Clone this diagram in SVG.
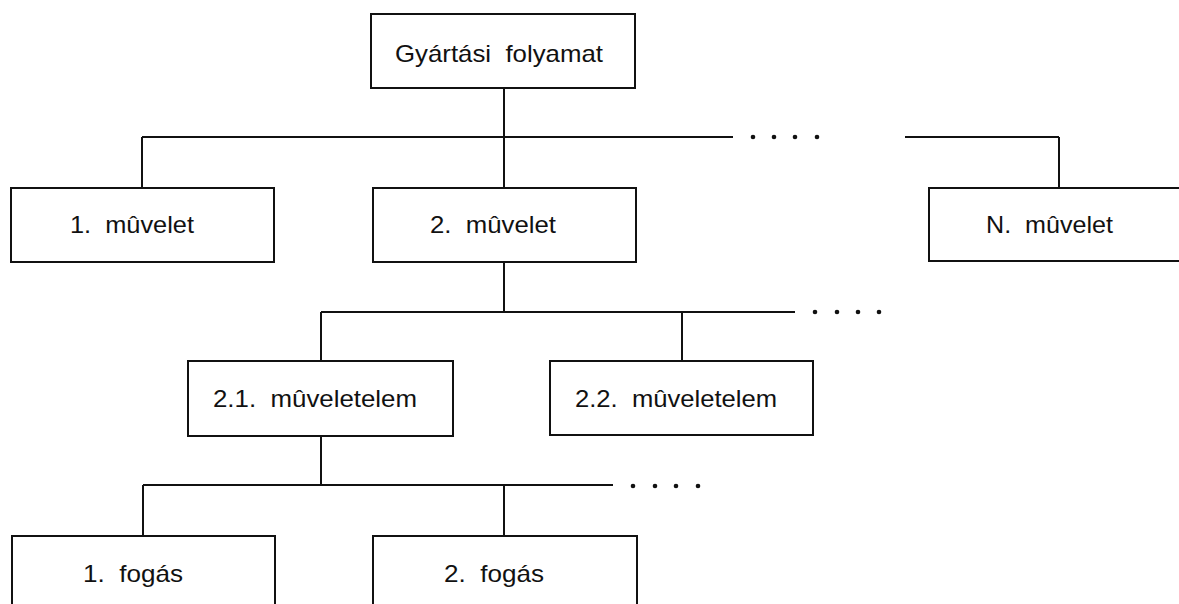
<svg xmlns="http://www.w3.org/2000/svg" width="1179" height="604" viewBox="0 0 1179 604">
  <style>
    .box { fill: #ffffff; stroke: #111111; stroke-width: 2; }
    .lbl { font-family: "Liberation Sans", Arial, sans-serif; font-size: 24px; fill: #111111; white-space: pre; }
    .wire { fill: none; stroke: #111111; stroke-width: 2; }
    .dot { fill: #111111; }
  </style>
  <rect width="1179" height="604" fill="#ffffff"/>

  <g id="connectors">
    <!-- process -> operations -->
    <path class="wire" d="M504 88 V137 M142 137 H733 M905 137 H1059 M142 137 V188 M504 137 V188 M1059 137 V188"/>
    <circle class="dot" cx="753" cy="137" r="2.3"/>
    <circle class="dot" cx="774" cy="137" r="2.3"/>
    <circle class="dot" cx="795" cy="137" r="2.3"/>
    <circle class="dot" cx="817" cy="137" r="2.3"/>
    <!-- operation 2 -> elements -->
    <path class="wire" d="M504 262 V312 M321 312 H795 M321 312 V361 M682 312 V361"/>
    <circle class="dot" cx="815" cy="312" r="2.3"/>
    <circle class="dot" cx="837" cy="312" r="2.3"/>
    <circle class="dot" cx="858" cy="312" r="2.3"/>
    <circle class="dot" cx="879" cy="312" r="2.3"/>
    <!-- element 2.1 -> moves -->
    <path class="wire" d="M321 436 V485 M143 485 H613 M143 485 V536 M504 485 V536"/>
    <circle class="dot" cx="633" cy="486" r="2.3"/>
    <circle class="dot" cx="655" cy="486" r="2.3"/>
    <circle class="dot" cx="676" cy="486" r="2.3"/>
    <circle class="dot" cx="698" cy="486" r="2.3"/>
  </g>

  <g id="process">
    <rect class="box" x="371" y="14" width="264" height="74"/>
    <text class="lbl" x="395" y="62" textLength="208" lengthAdjust="spacingAndGlyphs">Gyártási  folyamat</text>
  </g>

  <g id="op1">
    <rect class="box" x="11" y="188" width="263" height="74"/>
    <text class="lbl" x="70" y="233" textLength="124" lengthAdjust="spacingAndGlyphs">1.  mûvelet</text>
  </g>

  <g id="op2">
    <rect class="box" x="373" y="188" width="263" height="74"/>
    <text class="lbl" x="430" y="233" textLength="126" lengthAdjust="spacingAndGlyphs">2.  mûvelet</text>
  </g>

  <g id="opN">
    <rect class="box" x="929" y="188" width="263" height="73"/>
    <text class="lbl" x="986" y="233" textLength="127" lengthAdjust="spacingAndGlyphs">N.  mûvelet</text>
  </g>

  <g id="elem21">
    <rect class="box" x="188" y="361" width="265" height="75"/>
    <text class="lbl" x="213" y="407" textLength="204" lengthAdjust="spacingAndGlyphs">2.1.  mûveletelem</text>
  </g>

  <g id="elem22">
    <rect class="box" x="550" y="361" width="263" height="74"/>
    <text class="lbl" x="575" y="407" textLength="202" lengthAdjust="spacingAndGlyphs">2.2.  mûveletelem</text>
  </g>

  <g id="move1">
    <rect class="box" x="12" y="536" width="263" height="80"/>
    <text class="lbl" x="83" y="582" textLength="100" lengthAdjust="spacingAndGlyphs">1.  fogás</text>
  </g>

  <g id="move2">
    <rect class="box" x="373" y="536" width="264" height="80"/>
    <text class="lbl" x="444" y="582" textLength="100" lengthAdjust="spacingAndGlyphs">2.  fogás</text>
  </g>
</svg>
